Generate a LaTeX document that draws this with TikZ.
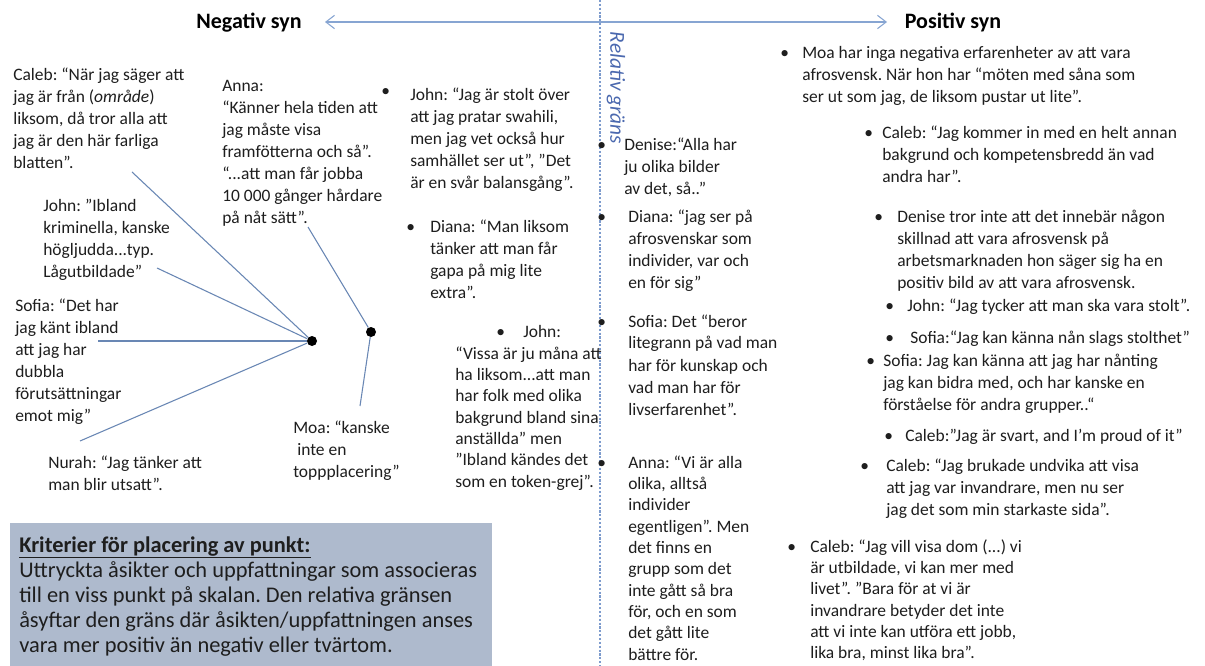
\documentclass[tikz,border=0pt]{standalone}
\usepackage{fontspec}
\setmainfont{Carlito}
\usetikzlibrary{arrows.meta}
\definecolor{txtc}{RGB}{30,30,30}
\definecolor{connc}{RGB}{105,135,180}
\definecolor{arrc}{RGB}{135,165,210}
\definecolor{dashc}{RGB}{125,155,205}
\definecolor{relc}{RGB}{75,105,175}
\definecolor{boxc}{RGB}{174,186,205}
\newcommand\pbx[1]{\parbox[t]{16cm}{\raggedright #1}}
\frenchspacing
\begin{document}
\begin{tikzpicture}[x=0.75pt,y=-0.75pt,
  txt/.style={anchor=base west, inner sep=0pt, text=txtc, font=\fontsize{13.1pt}{16.5pt}\selectfont},
  txtn/.style={txt, font=\fontsize{13.1pt}{16pt}\selectfont},
  boxtxt/.style={anchor=base west, inner sep=0pt, text=txtc, font=\fontsize{16.8pt}{18.75pt}\selectfont},
  ttl/.style={anchor=base, inner sep=0pt, text=black, font=\fontsize{16.5pt}{19pt}\selectfont\bfseries},
  conn/.style={draw=connc, line width=0.8pt},
  dotn/.style={circle, fill=black, inner sep=0pt, minimum size=7.5pt},
]
\useasboundingbox (0,0) rectangle (1205,666);
\fill[white] (0,0) rectangle (1205,666);

% axis
\coordinate (al) at (325,22);
\coordinate (ar) at (887,22);
\coordinate (dt) at (600,0);
\coordinate (db) at (600,666);
\draw[dashc, line width=0.8pt, dash pattern=on 1.6pt off 1.3pt] (dt) -- (db);
\draw[arrc, line width=0.8pt, {Straight Barb[length=6.5pt,width=10pt]}-{Straight Barb[length=6.5pt,width=10pt]}] (al) -- (ar);
\node[ttl] (neg) at (249,29) {Negativ syn};
\node[ttl] (pos) at (953,29) {Positiv syn};
\node[rotate=-90, inner sep=0pt, text=relc, font=\fontsize{16pt}{19pt}\selectfont\itshape] (rel) at (616,88) {Relativ gräns};

% criteria box
\fill[boxc] (10,523) rectangle (492,666);
\node[boxtxt] (crit) at (19,552) {\pbx{\textbf{\underline{Kriterier för placering av punkt:}}\\
Uttryckta åsikter och uppfattningar som associeras\\
till en viss punkt på skalan. Den relativa gränsen\\
åsyftar den gräns där åsikten/uppfattningen anses\\
vara mer positiv än negativ eller tvärtom.}};

% left quotes
\node[txt] (caleb) at (13,81) {\pbx{Caleb: “När jag säger att\\ jag är från (\textit{område})\\ liksom, då tror alla att\\ jag är den här farliga\\ blatten”.}};
\node[txt] (anna) at (222,92) {\pbx{Anna:\\ “Känner hela tiden att\\ jag måste visa\\ framfötterna och så”.\\ “...att man får jobba\\ 10 000 gånger hårdare\\ på nåt sätt”.}};
\node[txt] (bjohn) at (381,97) {•};
\node[txt] (john) at (410,101) {\pbx{John: “Jag är stolt över\\ att jag pratar swahili,\\ men jag vet också hur\\ samhället ser ut”, ”Det\\ är en svår balansgång”.}};
\node[txt] (johnl) at (43,212) {\pbx{John: ”Ibland\\ kriminella, kanske\\ högljudda...typ.\\ Lågutbildade”}};
\node[txt] (bdiana) at (406,233) {•};
\node[txt] (diana) at (430,233) {\pbx{Diana: “Man liksom\\ tänker att man får\\ gapa på mig lite\\ extra”.}};
\node[txt] (sofia) at (15,311) {\pbx{Sofia: “Det har\\ jag känt ibland\\ att jag har\\ dubbla\\ förutsättningar\\ emot mig”}};
\node[txt] (bjohn2) at (496,337) {•};
\node[txt] (john2h) at (523,337) {John:};
\node[txtn] (john2) at (455,359) {\pbx{“Vissa är ju måna att\\ ha liksom...att man\\ har folk med olika\\ bakgrund bland sina\\ anställda” men\\ ”Ibland kändes det\\ som en token-grej”.}};
\node[txt] (moa) at (293,433) {\pbx{Moa: “kanske\\ \hspace*{3pt}inte en\\ toppplacering”}};
\node[txt] (nurah) at (48,468) {\pbx{Nurah: “Jag tänker att\\ man blir utsatt”.}};

% dots and connectors
\node[dotn] (dl) at (312,341) {};
\node[dotn] (dr) at (371,332) {};
\coordinate (cc) at (132,172);
\coordinate (cj) at (157,268);
\coordinate (cs) at (98,341);
\coordinate (cn) at (80,441);
\coordinate (ca) at (308,227);
\coordinate (cm) at (360,406);
\draw[conn] (cc) -- (dl);
\draw[conn] (cj) -- (dl);
\draw[conn] (cs) -- (dl);
\draw[conn] (cn) -- (dl);
\draw[conn] (ca) -- (dr);
\draw[conn] (dr) -- (cm);

% middle column
\node[txt] (bden) at (597,151) {•};
\node[txt] (denise) at (624,151) {\pbx{Denise:“Alla har\\ ju olika bilder\\ av det, så..”}};
\node[txt] (bdia2) at (597,223) {•};
\node[txt] (diana2) at (628,223) {\pbx{Diana: “jag ser på\\ afrosvenskar som\\ individer, var och\\ en för sig”}};
\node[txt] (bsof2) at (597,327) {•};
\node[txt] (sofia2) at (628,327) {\pbx{Sofia: Det “beror\\ litegrann på vad man\\ har för kunskap och\\ vad man har för\\ livserfarenhet”.}};
\node[txt] (bann2) at (597,468) {•};
\node[txtn] (anna2) at (628,468) {\pbx{Anna: “Vi är alla\\ olika, alltså\\ individer\\ egentligen”. Men\\ det finns en\\ grupp som det\\ inte gått så bra\\ för, och en som\\ det gått lite\\ bättre för.}};

% right column
\node[txt] (bmoa) at (780,59) {•};
\node[txt] (moar) at (802,59) {\pbx{Moa har inga negativa erfarenheter av att vara\\ afrosvensk. När hon har “möten med såna som\\ ser ut som jag, de liksom pustar ut lite”.}};
\node[txt] (bcal1) at (864,139) {•};
\node[txt] (cal1) at (882,139) {\pbx{Caleb: “Jag kommer in med en helt annan\\ bakgrund och kompetensbredd än vad\\ andra har”.}};
\node[txt] (bden3) at (874,223) {•};
\node[txt] (den3) at (897,223) {\pbx{Denise tror inte att det innebär någon\\ skillnad att vara afrosvensk på\\ arbetsmarknaden hon säger sig ha en\\ positiv bild av att vara afrosvensk.}};
\node[txt] (bjo3) at (885,311) {•};
\node[txt] (jo3) at (907,311) {John: “Jag tycker att man ska vara stolt”.};
\node[txt] (bso3) at (885,343) {•};
\node[txt] (so3) at (910,343) {Sofia:“Jag kan känna nån slags stolthet”};
\node[txt] (bso4) at (866,366) {•};
\node[txt] (so4) at (883,366) {\pbx{Sofia: Jag kan känna att jag har nånting\\ jag kan bidra med, och har kanske en\\ förståelse för andra grupper..“}};
\node[txt] (bca3) at (884,441) {•};
\node[txt] (ca3) at (905,441) {Caleb:”Jag är svart, and I’m proud of it”};
\node[txt] (bca4) at (860,471) {•};
\node[txt] (ca4) at (886,471) {\pbx{Caleb: “Jag brukade undvika att visa\\ att jag var invandrare, men nu ser\\ jag det som min starkaste sida”.}};
\node[txt] (bca5) at (787,552) {•};
\node[txtn] (ca5) at (810,552) {\pbx{Caleb: “Jag vill visa dom (...) vi\\ är utbildade, vi kan mer med\\ livet”. ”Bara för at vi är\\ invandrare betyder det inte\\ att vi inte kan utföra ett jobb,\\ lika bra, minst lika bra”.}};
\end{tikzpicture}
\end{document}
